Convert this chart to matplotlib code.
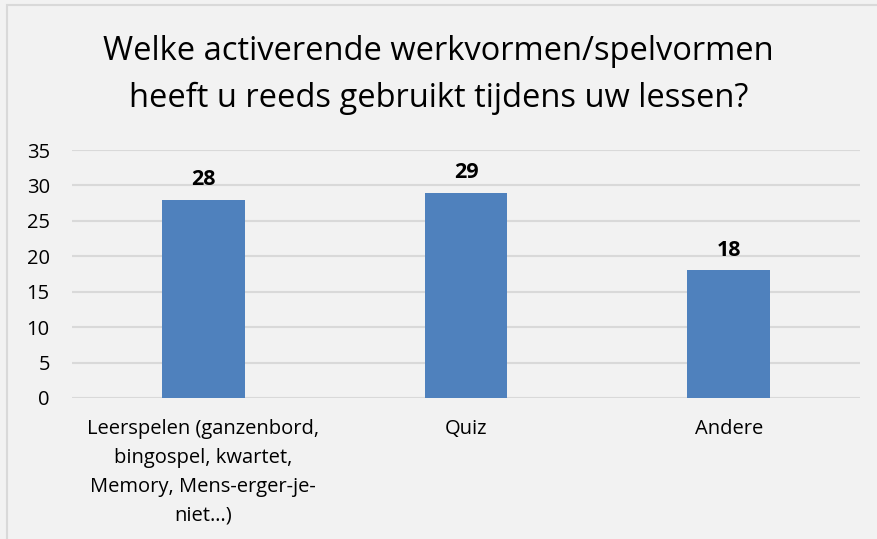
import matplotlib.pyplot as plt
import numpy as np
from matplotlib.patches import Rectangle

plt.rcParams['font.family'] = ['Open Sans', 'DejaVu Sans']

# data
categories = ['Leerspelen (ganzenbord,\nbingospel, kwartet,\nMemory, Mens-erger-je-\nniet…)',
              'Quiz', 'Andere']
values = [28, 29, 18]
yticks = [0, 5, 10, 15, 20, 25, 30, 35]

bg = '#F2F2F2'
fig = plt.figure(figsize=(8.77, 5.39), dpi=100, facecolor=bg)
ax = fig.add_axes([0.0821, 0.2616, 0.8985, 0.4601], facecolor=bg)

x = np.arange(len(categories))
bars = ax.bar(x, values, width=0.315, color='#4F81BD', zorder=3)

for b, v in zip(bars, values):
    ax.annotate(str(v), (b.get_x() + b.get_width() / 2, v), xytext=(0, 7),
                textcoords='offset points', ha='center', va='bottom',
                fontsize=15.5, fontweight='bold', color='black')

ax.set_xlim(-0.5, 2.5)
ax.set_ylim(0, 35)
ax.set_yticks(yticks)
ax.set_yticklabels([str(t) for t in yticks], fontsize=14.5)
ax.set_xticks(x)
ax.set_xticklabels(categories, fontsize=14.5, linespacing=1.6, va='top')
ax.tick_params(axis='both', length=0)
ax.tick_params(axis='y', pad=16)
ax.tick_params(axis='x', pad=15)
ax.yaxis.grid(True, color='#D9D9D9', linewidth=1.5, zorder=0)
for s in ax.spines.values():
    s.set_visible(False)

fig.text(0.5, 0.905, 'Welke activerende werkvormen/spelvormen', ha='center', va='center',
         fontsize=23.5, color='black')
fig.text(0.5, 0.818, 'heeft u reeds gebruikt tijdens uw lessen?', ha='center', va='center',
         fontsize=23.5, color='black')

fig.patches.append(Rectangle((0.008, -0.02), 1.1, 1.011, transform=fig.transFigure,
                             fill=False, edgecolor='#D9D9D9', linewidth=1.5))

fig.savefig('out.png', dpi=100, facecolor=bg)
